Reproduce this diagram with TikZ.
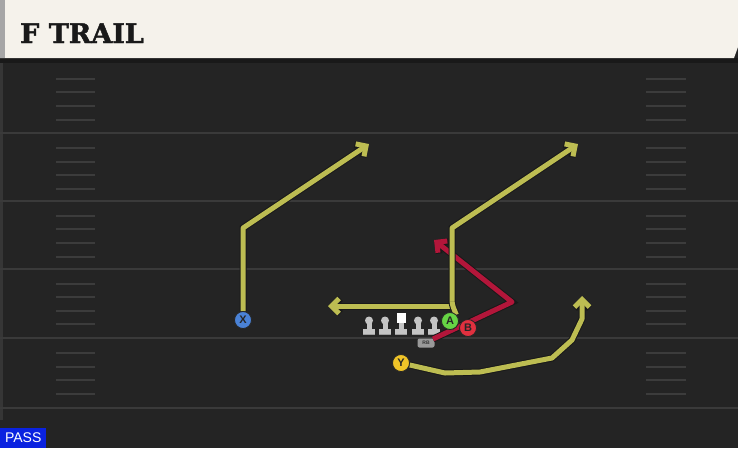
\documentclass[tikz,border=0pt]{standalone}
\usepackage{fontspec}
\usetikzlibrary{arrows.meta}
\newfontfamily\titlefont[BoldFeatures={FakeBold=1.6}]{DejaVu Serif}
\newfontfamily\labelfont{Liberation Sans}
\definecolor{field}{HTML}{242424}
\definecolor{fieldline}{HTML}{3A3A3A}
\definecolor{hash}{HTML}{3C3C3C}
\definecolor{cream}{HTML}{F5F2EB}
\definecolor{route}{HTML}{BDBD52}
\definecolor{redroute}{HTML}{B3163A}
\definecolor{xblue}{HTML}{4A82D6}
\definecolor{ygold}{HTML}{F0C428}
\definecolor{agreen}{HTML}{66D444}
\definecolor{bred}{HTML}{E0303F}
\definecolor{passblue}{HTML}{0A22E0}
\definecolor{linegray}{HTML}{C4C4C4}
\tikzset{
  player/.style={circle, draw=black!85, line width=0.8pt, minimum size=17pt, inner sep=0pt,
    font=\labelfont\bfseries\fontsize{11}{11}\selectfont, text=black!85},
  yroute/.style={draw=route, line width=5pt, line join=round,
    preaction={draw=black!90, line width=7pt}},
  rroute/.style={draw=redroute, line width=5pt, line join=round,
    preaction={draw=black!90, line width=7pt}},
  tip/.style={-{Straight Barb[length=7.5pt,width=15pt]}},
  hashmark/.style={draw=hash, line width=1.6pt},
  yardline/.style={draw=fieldline, line width=2pt}
}
\begin{document}
\begin{tikzpicture}[x=1pt,y=-1pt]
\useasboundingbox (0,0) rectangle (738,448);
% field
\fill[field] (0,0) rectangle (738,448);
\fill[black!30!field] (0,58) rectangle (738,63);
\fill[white!8!field] (0,63) rectangle (3,420);
\foreach \yy in {133,201,269,338,408} \draw[yardline] (0,\yy) -- (738,\yy);
\foreach \yy in {79,92,106,120,148,162,175,189,216,229,243,257,284,297,311,324,353,367,380,394}{
  \draw[hashmark] (56,\yy) -- (95,\yy);
  \draw[hashmark] (646,\yy) -- (686,\yy);
}
% header
\fill[cream] (0,0) -- (738,0) -- (738,47) -- (734,58) -- (0,58) -- cycle;
\fill[black!35] (0,0) rectangle (5,58);
\node[anchor=base west, inner sep=0pt, text=black!90, font=\titlefont\bfseries\fontsize{27}{27}\selectfont] (title) at (20,43) {F TRAIL};
% PASS tag
\node[anchor=south west, fill=passblue, minimum width=46pt, minimum height=20pt, inner sep=0pt, text=white,
  font=\labelfont\fontsize{14}{14}\selectfont] (pass) at (0,448) {PASS};
% route corner coordinates
\coordinate (x1) at (243,228);
\coordinate (x2) at (369,144);
\coordinate (a0) at (452,306);
\coordinate (a1) at (452,228);
\coordinate (a2) at (578,144);
\coordinate (a3) at (328,306);
\coordinate (b0) at (433,339);
\coordinate (b1) at (512,302);
\coordinate (b2) at (434,240);
\coordinate (y1) at (445,373);
\coordinate (y2) at (480,372);
\coordinate (y3) at (552,358);
\coordinate (y4) at (572,340);
\coordinate (y5) at (582,319);
\coordinate (y6) at (582,296);
% linemen
\foreach \lx/\nm in {369/l1,385/l2,418/l4,434/l5}{
  \fill[linegray!80!black] (\lx-6,328.5) rectangle (\lx+6,335);
  \fill[linegray] (\lx-2.5,321) rectangle (\lx+2.5,330);
  \fill[linegray] (\lx-6,329) rectangle (\lx+6,334);
  \node[circle, fill=linegray, minimum size=8pt, inner sep=0pt] (\nm) at (\lx,320.5) {};
}
\fill[linegray!80!black] (395,328.5) rectangle (407,335);
\fill[linegray] (398.5,321) rectangle (403.5,330);
\fill[linegray] (395,329) rectangle (407,334);
\node[rectangle, fill=white, minimum width=9pt, minimum height=10pt, inner sep=0pt] (center) at (401,318) {};
% RB tag
\node[rounded corners=2pt, fill=black!40, minimum width=17pt, minimum height=9pt, inner sep=0pt,
  text=black!80, font=\labelfont\bfseries\fontsize{5}{5}\selectfont] (rb) at (426,343) {RB};
% routes
\draw[rroute, tip] (b0) -- (b1) -- (b2);
\node[player] (X) at (243,320) {X};
\draw[yroute, tip] (X) -- (x1) -- (x2);
\draw[yroute, tip] (a0) -- (a3);
\node[player, fill=agreen] (A) at (450,321) {A};
\draw[yroute] (A.north east) to[out=110,in=-90] (452,300);
\draw[yroute, tip] (452,301) -- (a1) -- (a2);
\node[player] (Y) at (401,363) {Y};
\draw[yroute, tip] (Y) -- (y1) -- (y2) -- (y3) -- (y4) -- (y5) -- (y6);
% players on top
\node[player, fill=xblue] at (X) {X};
\node[player, fill=ygold] at (Y) {Y};
\node[player, fill=agreen] at (A) {A};
\node[player, fill=bred] (B) at (468,328) {B};
\end{tikzpicture}
\end{document}
